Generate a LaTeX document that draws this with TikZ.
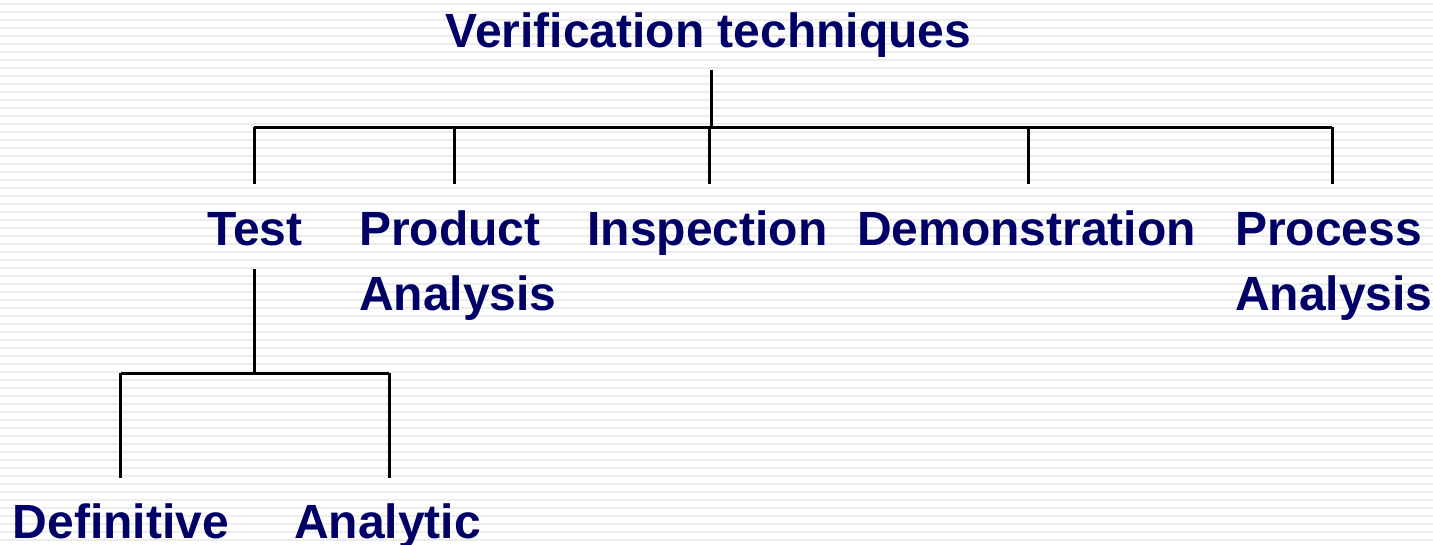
\documentclass[tikz,border=0pt]{standalone}
\usepackage{fontspec}
\setmainfont{Liberation Sans}
\definecolor{navytext}{RGB}{0,0,102}
\definecolor{stripegray}{RGB}{236,236,236}
\begin{document}
\begin{tikzpicture}[x=1pt,y=-1pt,
  lbl/.style={inner sep=0pt,text=navytext,font=\fontsize{48}{64.5}\selectfont\bfseries},
  conn/.style={draw=black,line width=3pt}]
\useasboundingbox (0,0) rectangle (1433,544);
\fill[white] (0,0) rectangle (1433,544);
\foreach \i in {0,...,67}{
  \fill[stripegray] (0,{8*\i+3}) rectangle (1433,{8*\i+5});
}
% labels
\node[lbl,anchor=base] (root) at (708.5,47.7) {Verification techniques};
\node[lbl,anchor=base] (test) at (255,245.7) {Test};
\node[lbl,anchor=base west,align=left] (prod) at (359,310.2) {Product\\Analysis};
\node[lbl,anchor=base] (insp) at (707.5,245.7) {Inspection};
\node[lbl,anchor=base] (demo) at (1026.5,245.7) {Demonstration};
\node[lbl,anchor=base west,align=left] (proc) at (1235,310.2) {Process\\Analysis};
\node[lbl,anchor=base] (def) at (121,538) {Definitive};
\node[lbl,anchor=base] (ana) at (387.5,538) {Analytic};
% junction coordinates
\coordinate (rtop) at (711,70);
\coordinate (bus) at (711,127);
\coordinate (busL) at (254.3,127);
\coordinate (busR) at (1332,127);
\coordinate (cTest) at (254.3,183.5);
\coordinate (cProd) at (454,183.5);
\coordinate (cInsp) at (709,183.5);
\coordinate (cDemo) at (1028,183.5);
\coordinate (cProc) at (1332,183.5);
\coordinate (tTop) at (254.3,269);
\coordinate (tBus) at (254.3,373);
\coordinate (tBusL) at (120.7,373);
\coordinate (tBusR) at (389,373);
\coordinate (cDef) at (120.7,477.5);
\coordinate (cAna) at (389,477.5);
% connectors
\draw[conn] (rtop) -- (bus);
\draw[conn] (busL) -- (busR);
\draw[conn] (busL) -- (cTest);
\draw[conn] (cProd |- bus) -- (cProd);
\draw[conn] (cInsp |- bus) -- (cInsp);
\draw[conn] (cDemo |- bus) -- (cDemo);
\draw[conn] (busR) -- (cProc);
\draw[conn] (tTop) -- (tBus);
\draw[conn] (tBusL) -- (tBusR);
\draw[conn] (tBusL) -- (cDef);
\draw[conn] (tBusR) -- (cAna);
\end{tikzpicture}
\end{document}
